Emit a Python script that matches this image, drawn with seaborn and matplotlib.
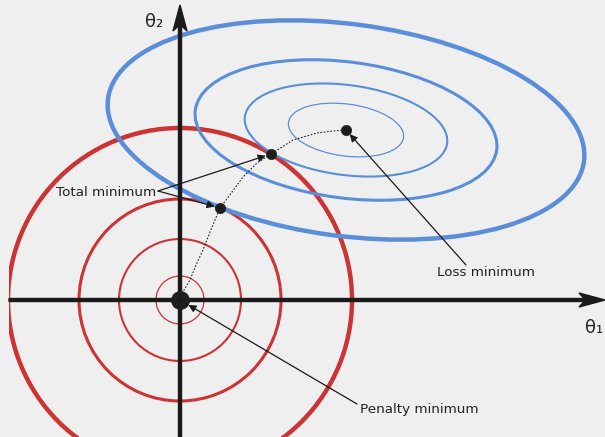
import numpy as np
import matplotlib
matplotlib.use("Agg")
import matplotlib.pyplot as plt
from matplotlib.patches import Circle, Ellipse
import seaborn as sns

# --- data -------------------------------------------------------------
# penalty (L2) contours: circles around the origin
penalty_radii = [0.24, 0.61, 1.01, 1.72]
penalty_widths = [0.9, 1.5, 2.2, 3.2]

# loss contours: tilted ellipses around the loss minimum
loss_center = (1.66, 1.70)
loss_semi_major = [0.58, 1.02, 1.52, 2.40]
loss_semi_minor = [0.26, 0.45, 0.68, 1.06]
loss_widths = [0.9, 1.5, 2.2, 3.2]
loss_angle = -7.5

# regularisation path from the penalty minimum to the loss minimum
path_x = [0.00, 0.04, 0.10, 0.16, 0.23, 0.30, 0.40, 0.52, 0.63, 0.77, 0.91, 1.13, 1.37, 1.53, 1.66]
path_y = [0.00, 0.10, 0.20, 0.35, 0.50, 0.68, 0.92, 1.08, 1.23, 1.37, 1.46, 1.60, 1.67, 1.69, 1.70]

# highlighted points
total_min_x = [0.91, 0.40]
total_min_y = [1.46, 0.92]
penalty_min = (0.0, 0.0)

BG = "#efefef"
RED = "#cc3333"
BLUE = "#5b8ed8"

sns.set_theme(style="white", rc={"axes.facecolor": BG, "figure.facecolor": BG})
plt.rcParams["font.family"] = ["DejaVu Sans"]

fig = plt.figure(figsize=(6.05, 4.37), dpi=100)
ax = fig.add_axes([9 / 605, 0, 596 / 605, 1])
ax.set_xlim(-1.71, 4.25)
ax.set_ylim(-1.37, 3.00)
ax.axis("off")

# contours
for r, lw in zip(penalty_radii, penalty_widths):
    ax.add_patch(Circle(penalty_min, r, fill=False, ec=RED, lw=lw, zorder=2))
for a, b, lw in zip(loss_semi_major, loss_semi_minor, loss_widths):
    ax.add_patch(Ellipse(loss_center, 2 * a, 2 * b, angle=loss_angle,
                         fill=False, ec=BLUE, lw=lw, zorder=3))

# coordinate axes with arrow heads
xmin, xmax = ax.get_xlim()
ymin, ymax = ax.get_ylim()
arrow_kw = dict(width=0.03, head_width=0.14, head_length=0.26, overhang=0.2,
                length_includes_head=True, color="k", zorder=4, clip_on=False)
ax.arrow(xmin, 0, xmax - xmin, 0, **arrow_kw)
ax.arrow(0, ymin, 0, 2.95 - ymin, **arrow_kw)

# regularisation path
sns.lineplot(x=path_x, y=path_y, sort=False, estimator=None, ax=ax,
             color="#222222", lw=0.8, linestyle=(0, (1.5, 1.5)), zorder=5)

# minima markers
pts_x = total_min_x + [path_x[-1]]
pts_y = total_min_y + [path_y[-1]]
sns.scatterplot(x=pts_x, y=pts_y, s=55, color="#1e1e1e", edgecolor="#1e1e1e",
                linewidth=0.5, ax=ax, zorder=6)
sns.scatterplot(x=pts_x, y=pts_y, s=8, color="k", edgecolor="k", linewidth=0,
                ax=ax, zorder=7)
sns.scatterplot(x=[penalty_min[0]], y=[penalty_min[1]], s=170, color="#1e1e1e",
                edgecolor="#1e1e1e", linewidth=0.5, ax=ax, zorder=6)
sns.scatterplot(x=[penalty_min[0]], y=[penalty_min[1]], s=22, color="k",
                edgecolor="k", linewidth=0, ax=ax, zorder=7)

# labels and pointers
label_kw = dict(fontsize=9.7, color="#222222", zorder=8)
ax.text(-1.24, 1.08, "Total minimum", ha="left", va="center", **label_kw)
ax.text(2.57, 0.27, "Loss minimum", ha="left", va="center", **label_kw)
ax.text(1.80, -1.09, "Penalty minimum", ha="left", va="center", **label_kw)

def pointer(start, target, shrink):
    ax.annotate("", xy=target, xytext=start,
                arrowprops=dict(arrowstyle="-|>", color="k", lw=0.9,
                                shrinkA=0, shrinkB=shrink, mutation_scale=11),
                zorder=8)

for tx, ty in zip(total_min_x, total_min_y):
    pointer((-0.22, 1.09), (tx, ty), 4)
pointer((2.86, 0.35), (path_x[-1], path_y[-1]), 4)
pointer((1.77, -1.04), penalty_min, 7)

ax.text(-0.35, 2.73, "θ₂", fontsize=13, ha="left", va="baseline", color="#222222")
ax.text(4.05, -0.33, "θ₁", fontsize=13, ha="left", va="baseline", color="#222222",
        clip_on=False)

fig.savefig("out.png", dpi=100, facecolor=BG)
